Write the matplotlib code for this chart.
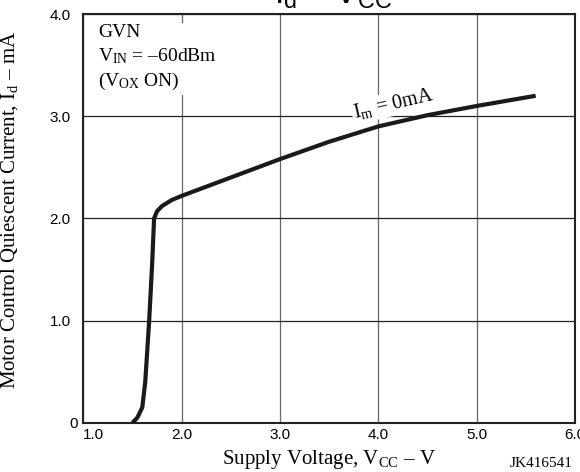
import matplotlib
matplotlib.use("Agg")
import matplotlib.pyplot as plt

plt.rcParams["font.family"] = "Liberation Serif"
plt.rcParams["mathtext.fontset"] = "custom"
plt.rcParams["mathtext.rm"] = "Liberation Serif"
plt.rcParams["mathtext.it"] = "Liberation Serif:italic"
plt.rcParams["mathtext.sf"] = "Liberation Sans"

# curve (Im = 0mA)
vcc = [1.50, 1.55, 1.60, 1.63, 1.67, 1.70, 1.72, 1.75, 1.80, 1.90, 2.00,
       2.50, 3.00, 3.50, 4.00, 4.50, 5.00, 5.60]
i_d = [0.00, 0.05, 0.15, 0.40, 1.00, 1.55, 2.00, 2.07, 2.12, 2.18, 2.22,
       2.40, 2.58, 2.75, 2.90, 3.01, 3.10, 3.20]

x_ticks = [1.0, 2.0, 3.0, 4.0, 5.0, 6.0]
x_labels = ["1.0", "2.0", "3.0", "4.0", "5.0", "6.0"]
y_ticks = [0, 1.0, 2.0, 3.0, 4.0]
y_labels = ["0", "1.0", "2.0", "3.0", "4.0"]

fig = plt.figure(figsize=(5.8, 4.72), dpi=100)
ax = fig.add_axes([0.1436, 0.1044, 0.8478, 0.8659])

ax.set_xlim(1.0, 6.0)
ax.set_ylim(0, 4.0)
ax.set_xticks(x_ticks, x_labels, fontfamily="Liberation Sans", fontsize=11)
ax.set_yticks(y_ticks, y_labels, fontfamily="Liberation Sans", fontsize=11)
ax.tick_params(axis="both", length=0)
ax.tick_params(axis="x", pad=4)
ax.tick_params(axis="y", pad=9)

for s in ax.spines.values():
    s.set_linewidth(1.5)
    s.set_color("#222222")

ax.xaxis.grid(True, color="#666666", linewidth=0.9)
ax.yaxis.grid(True, color="#222222", linewidth=0.9)
ax.set_axisbelow(True)

# first labels sit off the corner
yt = ax.yaxis.get_major_ticks()
yt[0].set_pad(4)
xt = ax.xaxis.get_major_ticks()
xt[0].label1.set_horizontalalignment("left")

ax.plot(vcc, i_d, color="#1a1a1a", linewidth=3, solid_capstyle="butt",
        solid_joinstyle="round", zorder=3)

ax.text(1.15, 3.905,
        "GVN\n$\\mathrm{V_{IN}}$ = –60dBm\n($\\mathrm{V_{OX}}$ ON)",
        fontsize=14, va="top", ha="left", linespacing=1.35,
        bbox=dict(facecolor="white", edgecolor="none", pad=2), zorder=4)

ax.text(4.15, 3.12, "$\\mathrm{I_m}$ = 0mA", fontsize=14.5, rotation=13,
        ha="center", va="center",
        bbox=dict(facecolor="white", edgecolor="none", pad=1), zorder=4)

ax.set_xlabel("Supply Voltage, $\\mathrm{V_{CC}}$ – V", fontsize=15, labelpad=4)
ax.set_ylabel("Motor Control Quiescent Current, $\\mathrm{I_d}$ – mA", fontsize=15)
ax.yaxis.set_label_coords(-0.128, 0.52)

fig.text(0.574, 1 - 4 / 472, "$\\mathsf{I_d}$ – $\\mathsf{V_{CC}}$",
         fontsize=24, fontfamily="Liberation Sans", ha="center", va="baseline")
fig.text(573 / 580, 5 / 472, "JK416541", fontsize=11, ha="right", va="baseline")

fig.savefig("out.png", dpi=100)
